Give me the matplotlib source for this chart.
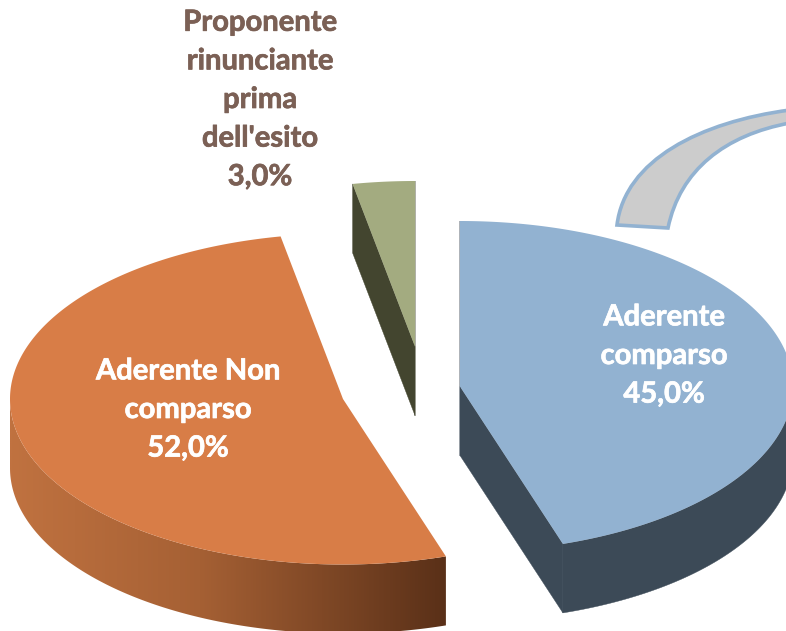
import numpy as np
import matplotlib
matplotlib.use("Agg")
import matplotlib.pyplot as plt
import matplotlib.patheffects as pe
from matplotlib.colors import LinearSegmentedColormap
from matplotlib.patches import PathPatch, Polygon
from matplotlib.path import Path

# chart values (percent), clockwise from 12 o'clock
labels = ["Aderente\ncomparso", "Aderente Non\ncomparso", "Proponente\nrinunciante\nprima\ndell'esito"]
shares = [45.0, 52.0, 3.0]

# --- look ---
top_colors = ["#92b2d1", "#d87d47", "#a3ab80"]
face_colors = ["#3c4a57", "#5a3018", "#43452f"]
show_faces = [True, False, True]
text_colors = ["white", "white", "#7b6055"]
text_pos = [(664, 356), (188, 410), (260, 100)]
apexes = [(460, 386.5), (343, 399), (415, 346.5)]
RX, RY, DEPTH = 333, 165.5, 69

# rim shading of the orange slice, left to right
rim_cmap = LinearSegmentedColormap.from_list(
    "rim", [(0, "#c07240"), (190 / 435, "#a56034"), (1, "#5a3018")])


def ellipse(apex, t):
    return np.column_stack([apex[0] + RX * np.cos(t), apex[1] - RY * np.sin(t)])


fig = plt.figure(figsize=(7.86, 6.31), dpi=100)
ax = fig.add_axes([0, 0, 1, 1])
ax.set_xlim(0, 786)
ax.set_ylim(631, 0)
ax.axis("off")

edges = np.deg2rad(90 - np.cumsum([0] + shares) * 3.6)

for i in range(len(shares)):
    t0, t1 = edges[i], edges[i + 1]
    t = np.linspace(t0, t1, 300)
    apex = apexes[i]

    # cut faces
    if show_faces[i]:
        for tc in (t0, t1):
            p = ellipse(apex, np.array([tc]))[0]
            quad = [apex, p, (p[0], p[1] + DEPTH), (apex[0], apex[1] + DEPTH)]
            ax.add_patch(Polygon(quad, fc=face_colors[i], ec=face_colors[i], lw=0.3))

    # outer rim, only the front half shows
    front = t[np.sin(t) < 0]
    if len(front) > 1:
        pts = ellipse(apex, front)
        rim = np.vstack([pts, pts[::-1] + [0, DEPTH]])
        if i == 1:
            patch = Polygon(rim, fc="none", ec="none")
            ax.add_patch(patch)
            x0, x1 = pts[:, 0].min(), pts[:, 0].max()
            y0, y1 = rim[:, 1].min(), rim[:, 1].max()
            im = ax.imshow(np.linspace(0, 1, 435)[None, :], cmap=rim_cmap, aspect="auto",
                           extent=(x0, x1, y1, y0), zorder=1)
            im.set_clip_path(patch)
            ax.set_xlim(0, 786)
            ax.set_ylim(631, 0)
        else:
            ax.add_patch(Polygon(rim, fc=face_colors[i], ec=face_colors[i], lw=0.3))

    # top surface
    outline = np.vstack([[apex], ellipse(apex, t)])
    ax.add_patch(Polygon(outline, fc=top_colors[i], ec="none", zorder=3))

# curved callout shape by the blue slice
verts = [(617, 225), (625, 160), (700, 122), (790, 110), (790, 123),
         (725, 135), (680, 170), (668, 228), (617, 225)]
codes = [Path.MOVETO, Path.CURVE4, Path.CURVE4, Path.CURVE4, Path.LINETO,
         Path.CURVE4, Path.CURVE4, Path.CURVE4, Path.CLOSEPOLY]
ax.add_patch(PathPatch(Path(verts, codes), fc="#cccccc", ec="#92b2d1", lw=2.6, zorder=4))

for i in range(len(shares)):
    value = f"{shares[i]:.1f}".replace(".", ",") + "%"
    ax.text(text_pos[i][0], text_pos[i][1], labels[i] + "\n" + value,
            color=text_colors[i], family="Lato", weight="bold", fontsize=21,
            ha="center", va="center", linespacing=1.6, zorder=5,
            path_effects=[pe.withStroke(linewidth=0.5, foreground=text_colors[i])])

fig.savefig("out.png", dpi=100)
